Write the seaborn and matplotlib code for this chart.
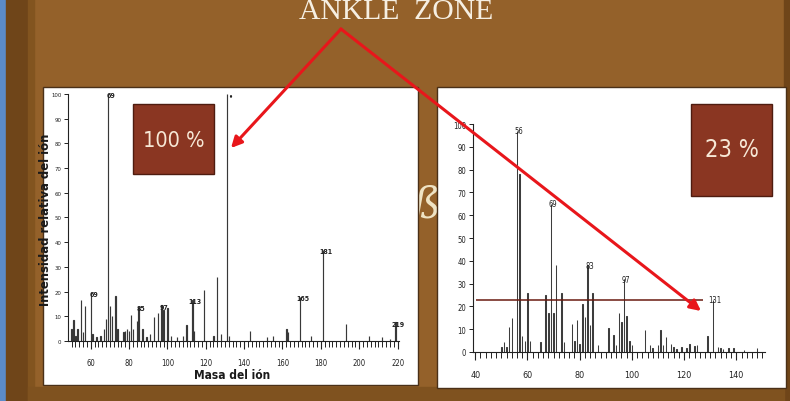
import numpy as np
import matplotlib
matplotlib.use('Agg')
import matplotlib.pyplot as plt
import seaborn as sns
from matplotlib import font_manager
from matplotlib.patches import Rectangle, FancyArrowPatch
from matplotlib.ticker import MultipleLocator

# ── espectro izquierdo (zona del tobillo, referencia) ─────────────────────────
left_mass = [50, 51, 52, 53, 55, 56, 57,
             60, 61, 63, 65, 67, 68, 69, 70, 71, 73, 74,
             77, 78, 79, 80, 81, 82, 84, 85, 87, 89, 91,
             93, 95, 97, 98, 100, 102, 105, 108, 110, 113, 114,
             119, 124, 126, 128, 131, 132,
             143, 152, 155, 162, 163, 169, 175, 181, 193, 205, 212, 216, 219]
left_int = [5, 8.4, 2, 5, 16.6, 3.5, 14,
            19.7, 3, 1.5, 2, 5, 9, 100, 14, 10, 18.4, 5,
            3.5, 4, 5, 4, 10.7, 5, 8, 13.8, 5, 1.5, 3,
            9.7, 11.5, 14.5, 12.6, 13.3, 2, 1.5, 2, 6.3, 16.6, 4,
            20.7, 2, 25.8, 3, 100, 2,
            4, 1.5, 2, 5, 3.5, 18, 2, 37, 7, 2, 1.5, 1, 7.5]
left_label_mass = [60, 69, 85, 97, 113, 131, 169, 181, 219]
left_label_text = ['69', '69', '85', '97', '113', '•', '165', '181', '219']
left_xticks = [60, 80, 100, 120, 140, 160, 180, 200, 220]

# ── espectro derecho (muestra) ────────────────────────────────────────────────
right_mass = [50, 51, 52, 53, 54,
              56, 57, 58, 59, 60, 61,
              65, 67, 68, 69, 70, 71, 73, 74,
              77, 78, 79, 80, 81, 82, 83, 84, 85, 87,
              91, 93, 94, 95, 96, 97, 98, 99, 100,
              105, 107, 108, 110, 111, 112, 113, 115, 116, 117, 119,
              121, 122, 124, 125, 129, 131, 133, 134, 135, 137, 139, 143, 148]
right_int = [2, 4.5, 2, 11, 15,
             97, 78, 7, 5, 26, 5,
             4.4, 25, 17, 65, 17, 38, 26, 4.4,
             12.4, 4.7, 14, 3.6, 21, 15.5, 38, 12, 26, 3,
             10.5, 7.5, 3, 17, 13.3, 32, 15.6, 4.7, 3,
             9.7, 3, 1.7, 3, 9.7, 3, 6.5, 3.6, 2, 1.4, 2,
             1.8, 3.3, 2.6, 3, 7, 23, 2, 1.7, 1.4, 1.7, 1.7, 1, 1.7]
right_label_mass = [56, 69, 83, 97, 131]
right_label_text = ['56', '69', '83', '97', '131']
right_xticks = [40, 60, 80, 100, 120, 140]

ref_level = 23          # intensidad del pico 131 frente a la referencia
ref_span = (40.3, 127.3)
yticks = list(range(0, 101, 10))

titulo = 'ANKLE  ZONE'
caja_izq = '100 %'
caja_der = '23 %'

sns.set_theme(style='ticks')
plt.rcParams['font.family'] = ['Liberation Sans', 'DejaVu Sans']

# buscar una fuente estrecha instalada (si no hay, Roboto)
CONDENSED = ('condensed', 'semi-condensed', 'extra-condensed', 'ultra-condensed')
cands = [f for f in font_manager.fontManager.ttflist
         if ('Narrow' in f.name or 'Condensed' in f.name
             or str(f.stretch) in CONDENSED)
         and f.style == 'normal']
cands.sort(key=lambda f: (abs(int(f.weight) - 400) if str(f.weight).isdigit() else 0))
if cands:
    NARROW = dict(family=[cands[0].name, 'DejaVu Sans'], stretch=cands[0].stretch)
else:
    NARROW = dict(family=['Roboto', 'DejaVu Sans'], stretch='normal')

W, H = 790, 402
fig = plt.figure(figsize=(W / 100, H / 100), dpi=100)
fig.patch.set_facecolor('#94612a')
rend = fig.canvas.get_renderer()


def rect(l, t, r, b):
    return [l / W, 1 - b / H, (r - l) / W, (b - t) / H]


def ajustar(txt, ancho, vertical=False, tope=40):
    """Escala el tamaño de la fuente para ocupar ~ancho px."""
    ext = txt.get_window_extent(rend)
    actual = ext.height if vertical else ext.width
    txt.set_fontsize(min(tope, txt.get_fontsize() * ancho / actual))


# ── fondo tipo madera ─────────────────────────────────────────────────────────
bg = fig.add_axes([0, 0, 1, 1], zorder=-10)
bg.set_xlim(0, W)
bg.set_ylim(H, 0)
bg.axis('off')
bg.add_patch(Rectangle((0, 0), 6, H, color='#5b8bc9', zorder=1))
bg.add_patch(Rectangle((6, 0), 22, H, color='#6f4519', zorder=1))
bg.add_patch(Rectangle((28, 0), 6, H, color='#82541f', zorder=1))
bg.add_patch(Rectangle((784, 0), 6, H, color='#6f4519', zorder=1))
bg.add_patch(Rectangle((28, 388), 756, 14, color='#7f521f', zorder=1))
bg.text(426, 206, 'ß', fontsize=30, color='#efe3c4', family='DejaVu Serif',
        style='italic', ha='center', va='center', zorder=2)
bg.add_patch(Rectangle((43, 88), 375, 298, fc='white', ec='#4a3018',
                       lw=1.0, zorder=3))
bg.add_patch(Rectangle((437, 88), 349, 301, fc='white', ec='#4a3018',
                       lw=1.0, zorder=3))


def estilo_eje(ax, xticks, xlab_size, ylab_size, pad_x):
    ax.patch.set_alpha(0)
    for s in ['top', 'right']:
        ax.spines[s].set_visible(False)
    for s in ['left', 'bottom']:
        ax.spines[s].set_color('#222222')
        ax.spines[s].set_linewidth(0.8)
    ax.spines['left'].set_bounds(0, 100)
    ax.set_xticks(xticks)
    ax.xaxis.set_minor_locator(MultipleLocator(2))
    ax.set_yticks(yticks)
    ax.tick_params(axis='x', which='major', direction='out', length=6,
                   width=0.8, pad=pad_x, labelsize=xlab_size, colors='#222222')
    ax.tick_params(axis='x', which='minor', direction='out', length=4,
                   width=0.7, colors='#222222')
    ax.tick_params(axis='y', which='major', direction='out', length=3,
                   width=0.7, pad=2, labelsize=ylab_size, colors='#222222')
    for t in ax.get_xticklabels() + ax.get_yticklabels():
        t.set_family(NARROW['family'])
        t.set_stretch(NARROW['stretch'])


# ── panel izquierdo ───────────────────────────────────────────────────────────
axL = fig.add_axes(rect(68.3, 90, 398.5, 342))
sns.barplot(x=left_mass, y=left_int, native_scale=True, width=0.2,
            color='#383838', edgecolor='#383838', linewidth=0.85,
            saturation=1, errorbar=None, ax=axL)
axL.set_xlim(48.3, 220.5)
axL.set_ylim(0, 102)
estilo_eje(axL, left_xticks, 5.5, 4.3, 6)
for m, txt in zip(left_label_mass, left_label_text):
    h = left_int[left_mass.index(m)]
    axL.annotate(txt, (m, h), xytext=(2, -1), textcoords='offset points',
                 ha='center', va='center', fontsize=5, color='#222222',
                 fontweight='bold', **NARROW)
xl = axL.set_xlabel('Masa del ión', fontsize=9.5, fontweight='bold',
                    color='#1a1a1a', **NARROW)
axL.xaxis.set_label_coords(0.496, -0.108)
yl = axL.set_ylabel('Intensidad relativa del ión', fontsize=9.5,
                    fontweight='bold', color='#1a1a1a', **NARROW)
axL.yaxis.set_label_coords(-0.05, 0.484)
ajustar(xl, 76, tope=10)
ajustar(yl, 172, vertical=True, tope=10)

# ── panel derecho ─────────────────────────────────────────────────────────────
axR = fig.add_axes(rect(473, 118, 765, 353))
sns.barplot(x=right_mass, y=right_int, native_scale=True, width=0.2,
            color='#3d3d3d', edgecolor='#3d3d3d', linewidth=0.75,
            saturation=1, errorbar=None, ax=axR)
axR.set_xlim(39.14, 151.0)
axR.set_ylim(0, 103.1)
estilo_eje(axR, right_xticks, 6.5, 5.5, 7)
axR.hlines(ref_level, *ref_span, color='#6a1a10', lw=1.1, zorder=3)
for m, txt in zip(right_label_mass, right_label_text):
    h = right_int[right_mass.index(m)]
    axR.annotate(txt, (m, h), xytext=(1.5, 0), textcoords='offset points',
                 ha='center', va='center', fontsize=5.5, color='#222222',
                 **NARROW)
axR.set_xlabel('')
axR.set_ylabel('')

# ── capa superior: título, cajas y flechas ────────────────────────────────────
ov = fig.add_axes([0, 0, 1, 1], zorder=20)
ov.set_xlim(0, W)
ov.set_ylim(H, 0)
ov.axis('off')
ov.patch.set_alpha(0)

t = ov.text(396, 19, titulo, fontsize=23, color='#f6efe2',
            family=['Liberation Serif', 'DejaVu Serif'], ha='center',
            va='baseline')
ajustar(t, 195, tope=26)

ov.add_patch(Rectangle((133, 105), 81, 70, fc='#8a3622', ec='#4e1c10', lw=1))
t1 = ov.text(173.5, 141, caja_izq, fontsize=18, color='#f7e8d6',
             ha='center', va='center', **NARROW)
ajustar(t1, 62, tope=20)
ov.add_patch(Rectangle((691, 105), 81, 92, fc='#8a3622', ec='#4e1c10', lw=1))
t2 = ov.text(731.5, 150, caja_der, fontsize=19, color='#f7e8d6',
             ha='center', va='center', **NARROW)
ajustar(t2, 54, tope=22)

apex = (341, 30)
for tip in [(231, 149), (701, 312)]:
    ov.add_patch(FancyArrowPatch(apex, tip, arrowstyle='-|>',
                                 mutation_scale=16, lw=2.2, color='#e8161b',
                                 shrinkA=0, shrinkB=0))

fig.savefig('out.png', dpi=100, facecolor=fig.get_facecolor())
